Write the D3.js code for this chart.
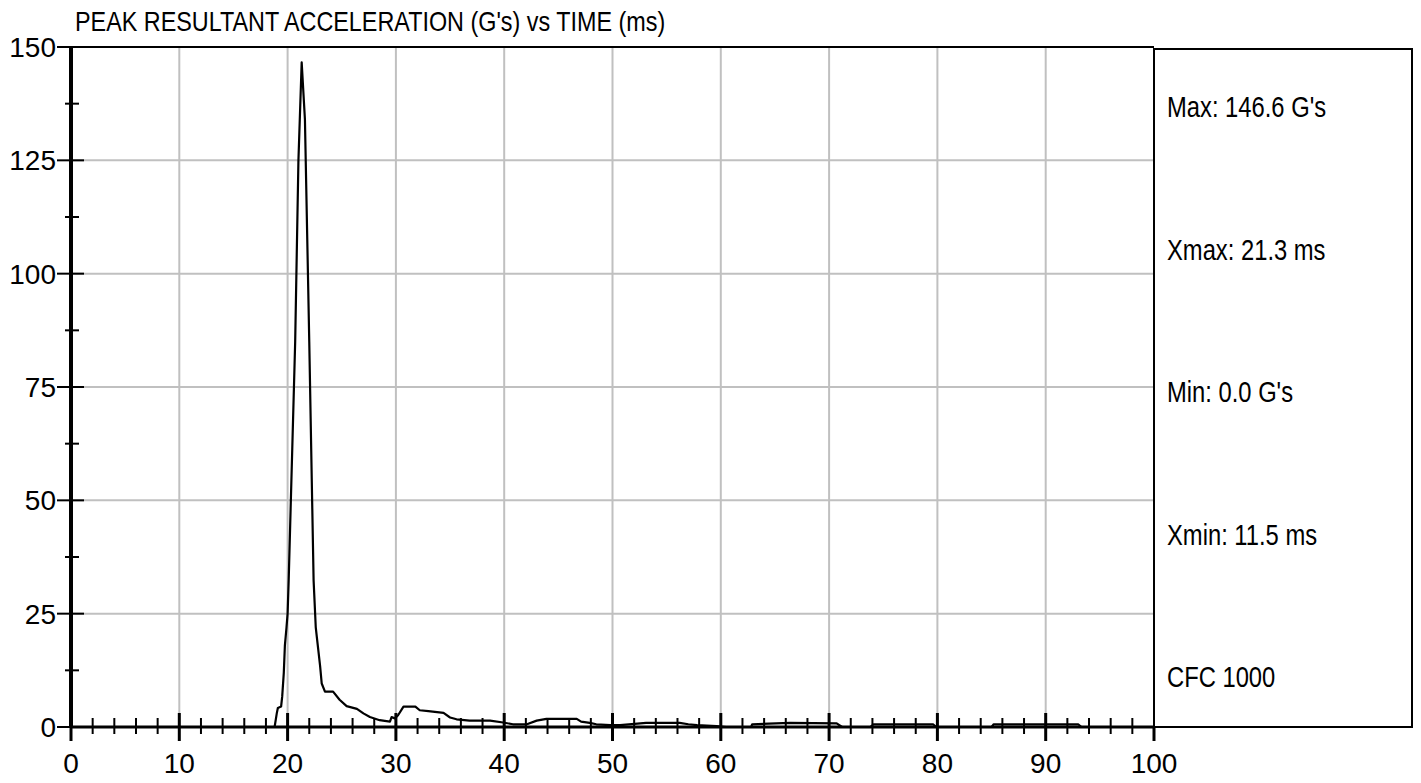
<!DOCTYPE html>
<html><head><meta charset="utf-8">
<script src="https://cdn.jsdelivr.net/npm/d3@7"></script>
<style>html,body{margin:0;padding:0;background:#fff;overflow:hidden}</style>
</head><body>
<svg id="chart" width="1421" height="783"></svg>
<script>
// ---- data ----
const titleText = "PEAK RESULTANT ACCELERATION (G's) vs TIME (ms)";
const timeMs = [0, 18.8, 19.0, 19.1, 19.4, 19.5, 19.65, 19.75, 19.9, 20.0, 20.1, 20.7, 21.0, 21.3, 21.6, 22.0, 22.4, 22.6, 22.7, 23.0, 23.15, 23.45, 24.2, 24.8, 25.45, 26.4, 27.0, 27.6, 28.5, 29.45, 29.6, 29.9, 30.2, 30.7, 31.8, 32.2, 33.0, 34.4, 35.0, 35.6, 36.8, 38.7, 39.9, 40.8, 42.1, 43.0, 43.9, 46.7, 47.1, 47.9, 48.5, 49.8, 50.7, 53.1, 56.2, 57.0, 57.8, 59.6, 60.5, 62.8, 62.9, 66.4, 70.7, 71.2, 73.8, 74.1, 79.6, 79.9, 85.0, 85.2, 93.0, 93.3, 100];
const accelG = [0, 0, 3.0, 4.2, 4.5, 6.7, 12, 18, 22, 25, 32.4, 85, 125, 146.6, 134, 85, 32.4, 22, 19.8, 13.5, 9.6, 7.8, 7.8, 6.0, 4.6, 4.0, 3.0, 2.2, 1.5, 1.2, 2.2, 1.9, 2.6, 4.5, 4.5, 3.7, 3.5, 3.1, 2.1, 1.7, 1.4, 1.4, 1.0, 0.6, 0.6, 1.4, 1.8, 1.8, 1.2, 0.9, 0.6, 0.4, 0.4, 0.9, 0.9, 0.6, 0.4, 0.2, 0, 0, 0.6, 0.9, 0.8, 0, 0, 0.6, 0.6, 0, 0, 0.6, 0.6, 0, 0];
const xMajorTicks = [0, 10, 20, 30, 40, 50, 60, 70, 80, 90, 100];
const xMinorTicks = [2,4,6,8,12,14,16,18,22,24,26,28,32,34,36,38,42,44,46,48,52,54,56,58,62,64,66,68,72,74,76,78,82,84,86,88,92,94,96,98];
const yMajorTicks = [0, 25, 50, 75, 100, 125, 150];
const yMinorTicks = [12.5, 37.5, 62.5, 87.5, 112.5, 137.5];
const statLabels = ["Max: 146.6 G's", "Xmax: 21.3 ms", "Min: 0.0 G's", "Xmin: 11.5 ms", "CFC 1000"];

// ---- font helper ----
function hasFont(name){
  const c = document.createElement('canvas').getContext('2d');
  const s = 'PEAK RESULTANT abc 123';
  c.font = '40px monospace'; const a = c.measureText(s).width;
  c.font = `40px '${name}', monospace`; const b = c.measureText(s).width;
  return Math.abs(a-b) > 0.5;
}
const narrowOK = hasFont('Liberation Sans Narrow');
const narrowFamily = narrowOK ? "'Liberation Sans Narrow', 'Arial Narrow', sans-serif" : "'Liberation Sans', Arial, sans-serif";
function narrowText(sel, x, y, txt, size, anchor){
  const t = sel.append('text').attr('font-family', narrowFamily).attr('font-size', size)
    .attr('fill', '#000').attr('text-anchor', anchor || 'start').text(txt);
  if (narrowOK) t.attr('x', x).attr('y', y);
  else t.attr('transform', `translate(${x},${y}) scale(0.82,1)`);
  return t;
}

// ---- layout ----
const svg = d3.select('#chart');
const L = 71, R = 1154, T = 47, B = 727;
const x = d3.scaleLinear().domain([0, 100]).range([L, R]);
const y = d3.scaleLinear().domain([0, 150]).range([B, T]);

// gridlines
svg.append('g').selectAll('line').data(xMajorTicks.filter(d => d > 0 && d < 100)).join('line')
  .attr('x1', d => x(d)).attr('x2', d => x(d)).attr('y1', T).attr('y2', B)
  .attr('stroke', '#c0c0c0').attr('stroke-width', 2);
svg.append('g').selectAll('line').data(yMajorTicks.filter(d => d > 0 && d < 150)).join('line')
  .attr('x1', L).attr('x2', R).attr('y1', d => y(d)).attr('y2', d => y(d))
  .attr('stroke', '#c0c0c0').attr('stroke-width', 2);

// top border of plot
svg.append('line').attr('x1', L).attr('x2', R).attr('y1', y(150)).attr('y2', y(150))
  .attr('stroke', '#000').attr('stroke-width', 2);

// stats panel
svg.append('rect').attr('x', R).attr('y', 49).attr('width', 1412 - R).attr('height', B - 49)
  .attr('fill', 'none').attr('stroke', '#000').attr('stroke-width', 2);

// curve
const line = d3.line().x((d, i) => x(timeMs[i])).y(d => y(d)).curve(d3.curveLinear);
svg.append('path').datum(accelG).attr('d', line)
  .attr('fill', 'none').attr('stroke', '#000').attr('stroke-width', 2.2).attr('stroke-linejoin', 'round');

// x axis
svg.append('line').attr('x1', L).attr('x2', R).attr('y1', B).attr('y2', B)
  .attr('stroke', '#000').attr('stroke-width', 3);
svg.append('g').selectAll('line').data(xMajorTicks).join('line')
  .attr('x1', d => x(d)).attr('x2', d => x(d))
  .attr('y1', d => (d === 0 || d === 100) ? B : B - 14).attr('y2', B + 14)
  .attr('stroke', '#000').attr('stroke-width', 3);
svg.append('g').selectAll('line').data(xMinorTicks).join('line')
  .attr('x1', d => x(d)).attr('x2', d => x(d)).attr('y1', B - 9).attr('y2', B + 7)
  .attr('stroke', '#000').attr('stroke-width', 2);
svg.append('g').selectAll('text').data(xMajorTicks).join('text')
  .attr('x', d => x(d)).attr('y', B + 46).attr('text-anchor', 'middle')
  .attr('font-family', "'Liberation Sans', Arial, sans-serif").attr('font-size', 28)
  .text(d => d);

// y axis
svg.append('line').attr('x1', L).attr('x2', L).attr('y1', T - 1).attr('y2', B + 1)
  .attr('stroke', '#000').attr('stroke-width', 4);
svg.append('g').selectAll('line').data(yMajorTicks).join('line')
  .attr('x1', 57).attr('x2', d => d === 150 ? L : 84).attr('y1', d => y(d)).attr('y2', d => y(d))
  .attr('stroke', '#000').attr('stroke-width', 2);
svg.append('g').selectAll('line').data(yMinorTicks).join('line')
  .attr('x1', 65).attr('x2', 79).attr('y1', d => y(d)).attr('y2', d => y(d))
  .attr('stroke', '#000').attr('stroke-width', 2);
svg.append('g').selectAll('text').data(yMajorTicks).join('text')
  .attr('x', 56).attr('y', d => y(d) + 10).attr('text-anchor', 'end')
  .attr('font-family', "'Liberation Sans', Arial, sans-serif").attr('font-size', 28)
  .text(d => d);

// title
narrowText(svg, 75, 31, titleText, 28.5, 'start');

// stats
const statY = d3.scalePoint().domain(statLabels).range([117, 687]);
statLabels.forEach(s => narrowText(svg, 1167, statY(s), s, 29, 'start'));
</script>
</body></html>
